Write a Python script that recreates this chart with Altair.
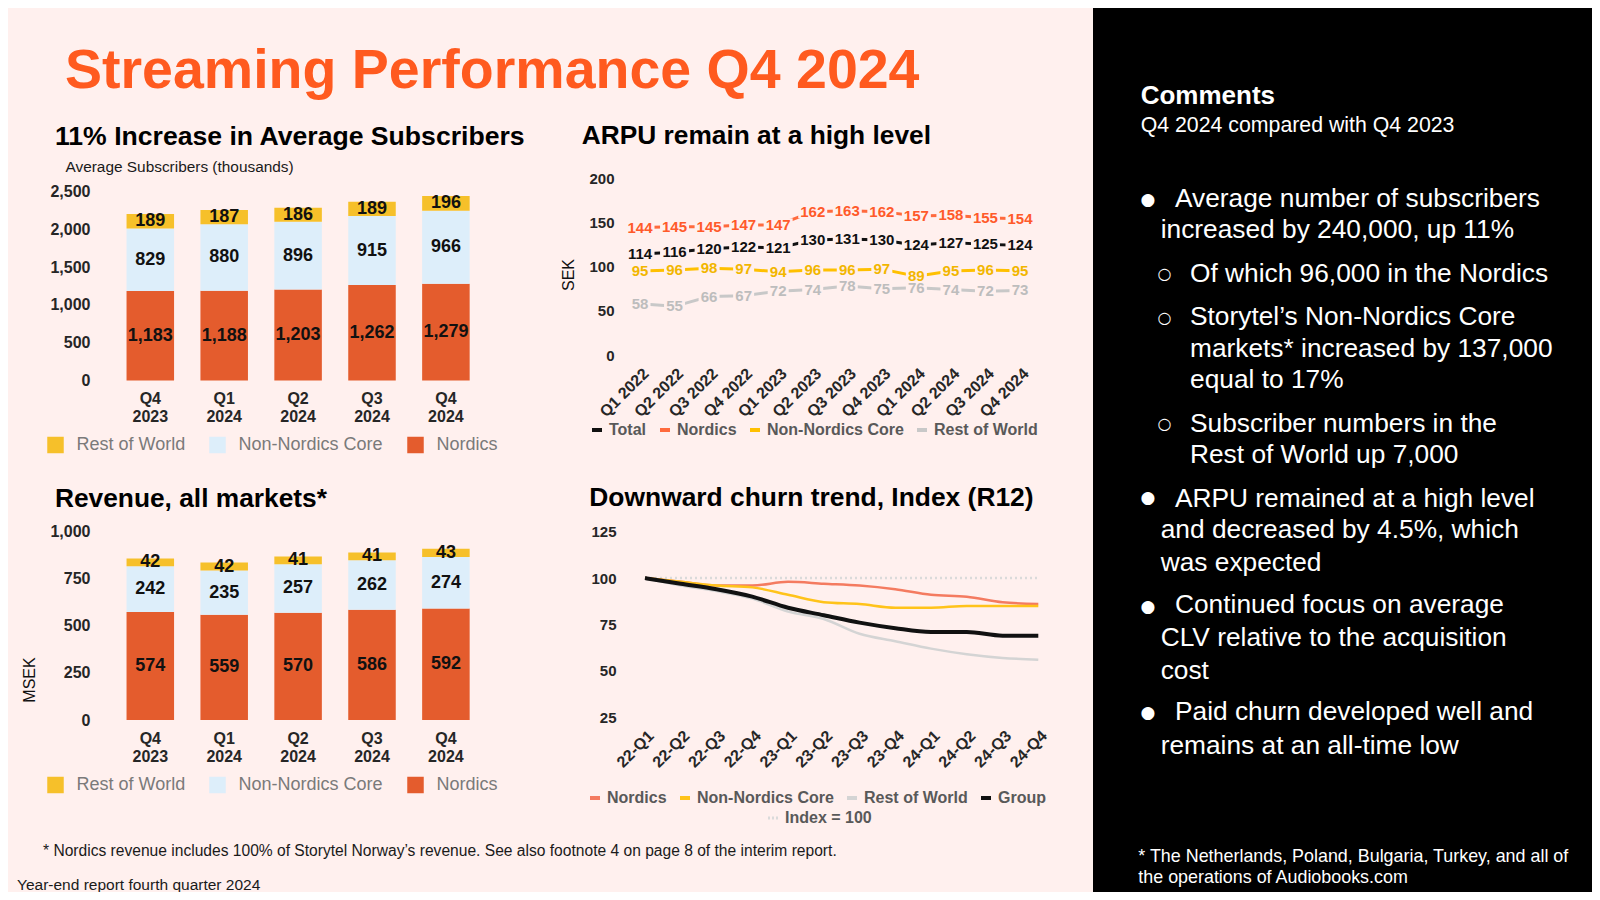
import altair as alt
import pandas as pd

W, H = 1584, 884
FONT = "Liberation Sans"
BG = "#FFF0EE"
TITLE_ORANGE = "#FF5A1F"
NORD_BAR = "#E45C2D"
NNC_BAR = "#DDEEFA"
ROW_BAR = "#F6C02A"
AXIS_C = "#262626"

# ---------------- data ----------------
quarters = ["Q4 2023", "Q1 2024", "Q2 2024", "Q3 2024", "Q4 2024"]
segments = ["Rest of World", "Non-Nordics Core", "Nordics"]
subs_nordics = [1183, 1188, 1203, 1262, 1279]
subs_nnc = [829, 880, 896, 915, 966]
subs_row = [189, 187, 186, 189, 196]
subs_ticks = [0, 500, 1000, 1500, 2000, 2500]

rev_nordics = [574, 559, 570, 586, 592]
rev_nnc = [242, 235, 257, 262, 274]
rev_row = [42, 42, 41, 41, 43]
rev_ticks = [0, 250, 500, 750, 1000]

arpu_quarters = ["Q1 2022", "Q2 2022", "Q3 2022", "Q4 2022", "Q1 2023", "Q2 2023",
                 "Q3 2023", "Q4 2023", "Q1 2024", "Q2 2024", "Q3 2024", "Q4 2024"]
arpu_series = ["Total", "Nordics", "Non-Nordics Core", "Rest of World"]
arpu_total = [114, 116, 120, 122, 121, 130, 131, 130, 124, 127, 125, 124]
arpu_nordics = [144, 145, 145, 147, 147, 162, 163, 162, 157, 158, 155, 154]
arpu_nnc = [95, 96, 98, 97, 94, 96, 96, 97, 89, 95, 96, 95]
arpu_row = [58, 55, 66, 67, 72, 74, 78, 75, 76, 74, 72, 73]
arpu_ticks = [0, 50, 100, 150, 200]

churn_quarters = ["22-Q1", "22-Q2", "22-Q3", "22-Q4", "23-Q1", "23-Q2",
                  "23-Q3", "23-Q4", "24-Q1", "24-Q2", "24-Q3", "24-Q4"]
churn_series = ["Nordics", "Non-Nordics Core", "Rest of World", "Group"]
churn_nordics = [100, 98, 96, 96, 98, 97, 96, 94, 91, 90, 87, 86]
churn_nnc = [100, 98, 96, 95, 91, 87, 86, 84, 84, 85, 85, 85]
churn_row = [100, 96, 93, 89, 82, 78, 70, 66, 62, 59, 57, 56]
churn_group = [100, 97, 94, 90, 84, 80, 76, 73, 71, 71, 69, 69]
churn_index = [100, 100, 100, 100, 100, 100, 100, 100, 100, 100, 100, 100]
churn_ticks = [25, 50, 75, 100, 125]

# ---------------- helpers ----------------
def txt(s, x, y, size, weight="normal", color="#000000", align="left",
        baseline="alphabetic", angle=None, font=FONT):
    kw = dict(x=x, y=y, fontSize=size, fontWeight=weight, color=color,
              align=align, baseline=baseline, font=font)
    if angle is not None:
        kw["angle"] = angle
    return alt.Chart(pd.DataFrame({"t": [s]})).mark_text(**kw).encode(text="t:N")


def yaxis(offset, values, size=16):
    return alt.Axis(orient="left", offset=offset, values=values, format=",.0f",
                    domain=False, ticks=False, tickSize=0, grid=False, labelPadding=0,
                    labelFontSize=size, labelFontWeight="bold", labelColor=AXIS_C,
                    title=None, labelOverlap=False, labelBaseline="middle")


BAR_X0, BAR_X1 = 105.35, 474.85


def bar_layers(nord, nnc, row, ymax, ticks, y0, y1, legend_y):
    recs = []
    for i, q in enumerate(quarters):
        base = 0
        for seg, vals, o in (("Nordics", nord, 1), ("Non-Nordics Core", nnc, 2),
                             ("Rest of World", row, 3)):
            v = vals[i]
            recs.append({"q": q, "seg": seg, "v": v, "o": o, "mid": base + v / 2})
            base += v
    df = pd.DataFrame(recs)
    xs = alt.Scale(type="band", domain=quarters, range=[BAR_X0, BAR_X1],
                   paddingInner=0.357, paddingOuter=0.1785)
    ys = alt.Scale(type="linear", domain=[0, ymax], range=[y0, y1], nice=False, zero=False)
    bars = alt.Chart(df).mark_bar().encode(
        x=alt.X("q:N", scale=xs, axis=alt.Axis(
            orient="bottom", offset=y0 - H, labelExpr="split(datum.label, ' ')",
            labelLineHeight=18, labelBaseline="top", labelPadding=10, labelAngle=0,
            labelFontSize=16, labelFontWeight="bold", labelColor=AXIS_C,
            domain=False, ticks=False, tickSize=0, grid=False, title=None,
            labelOverlap=False)),
        y=alt.Y("v:Q", stack="zero", scale=ys, axis=yaxis(-82, ticks, 16)),
        color=alt.Color("seg:N", scale=alt.Scale(domain=segments,
                                                 range=[ROW_BAR, NNC_BAR, NORD_BAR]),
                        legend=alt.Legend(orient="none", legendX=38.5, legendY=legend_y,
                                          direction="horizontal", title=None,
                                          symbolType="square", symbolSize=272,
                                          symbolStrokeWidth=0, labelFontSize=18,
                                          labelColor="#7A7A7A", labelOffset=12,
                                          columnPadding=23, padding=0)),
        order=alt.Order("o:Q"),
    )
    labels = alt.Chart(df).mark_text(fontSize=18, fontWeight="bold", color="#111111",
                                     baseline="middle").encode(
        x=alt.X("q:N", scale=xs, axis=None),
        y=alt.Y("mid:Q", scale=ys, stack=None, axis=None),
        text=alt.Text("v:Q", format=","),
    )
    return [bars, labels]


# ---------------- ARPU ----------------
arpu_recs = []
for s, vals in zip(arpu_series, [arpu_total, arpu_nordics, arpu_nnc, arpu_row]):
    for i, (q, v) in enumerate(zip(arpu_quarters, vals)):
        arpu_recs.append({"q": q, "s": s, "v": v, "i": i})
arpu_df = pd.DataFrame(arpu_recs)

xs_a = alt.Scale(type="point", domain=arpu_quarters, range=[632, 1012], padding=0)
ys_a = alt.Scale(type="linear", domain=[0, 200], range=[347, 170], nice=False, zero=False)
arpu_line_colors = alt.Scale(domain=arpu_series,
                             range=["#111111", "#FF6A3D", "#FFC000", "#C8C8C8"])
arpu_text_colors = alt.Scale(domain=arpu_series,
                             range=["#111111", "#FF5A2A", "#F2B600", "#BDBDBD"])

line_legend = dict(orient="none", direction="horizontal", title=None,
                   symbolType="stroke", symbolSize=100,
                   labelFontSize=16, labelFontWeight="bold", labelColor="#595959",
                   labelOffset=4, columnPadding=5, padding=0)

rot_axis = dict(orient="bottom", labelAngle=315, labelAlign="right", labelBaseline="top",
                labelPadding=10, labelFontSize=16, labelFontWeight="bold",
                labelColor=AXIS_C, domain=False, ticks=False, tickSize=0, grid=False,
                title=None, labelOverlap=False)

arpu_lines = alt.Chart(arpu_df).mark_line(strokeWidth=3).encode(
    x=alt.X("q:N", scale=xs_a, axis=alt.Axis(offset=347 - H, **rot_axis)),
    y=alt.Y("v:Q", scale=ys_a, stack=None, axis=yaxis(-606, arpu_ticks, 15)),
    color=alt.Color("s:N", scale=arpu_line_colors,
                    legend=alt.Legend(legendX=581, legendY=414, symbolStrokeWidth=4,
                                      **line_legend)),
    order=alt.Order("i:Q"),
)


def label_box(cond, path, size):
    return alt.Chart(arpu_df).transform_filter(cond).mark_point(
        shape=path, size=size, filled=True, fill=BG, opacity=1, strokeWidth=0).encode(
        x=alt.X("q:N", scale=xs_a, axis=None),
        y=alt.Y("v:Q", scale=ys_a, stack=None, axis=None),
    )


arpu_box3 = label_box("datum.v >= 100", "M-1,-0.45H1V0.45H-1Z", 841)
arpu_box2 = label_box("datum.v < 100", "M-1,-0.62H1V0.62H-1Z", 441)
arpu_text = alt.Chart(arpu_df).mark_text(fontSize=15, fontWeight="bold",
                                         baseline="middle").encode(
    x=alt.X("q:N", scale=xs_a, axis=None),
    y=alt.Y("v:Q", scale=ys_a, stack=None, axis=None),
    text="v:Q",
    color=alt.Color("s:N", scale=arpu_text_colors, legend=None),
)

# ---------------- churn ----------------
churn_recs = []
for s, vals in zip(churn_series, [churn_nordics, churn_nnc, churn_row, churn_group]):
    for i, (q, v) in enumerate(zip(churn_quarters, vals)):
        churn_recs.append({"q": q, "s": s, "v": v, "i": i})
churn_df = pd.DataFrame(churn_recs)
index_df = pd.DataFrame({"q": churn_quarters, "v": churn_index,
                         "s": ["Index = 100"] * len(churn_quarters),
                         "i": list(range(len(churn_quarters)))})

xs_c = alt.Scale(type="point", domain=churn_quarters, range=[637, 1030.3], padding=0)
ys_c = alt.Scale(type="linear", domain=[25, 125], range=[709.3, 523.7], nice=False, zero=False)
churn_colors = alt.Scale(domain=churn_series,
                         range=["#F47B60", "#FFC31A", "#D4D4D4", "#111111"])

churn_index_line = alt.Chart(index_df).mark_line(strokeWidth=2.5, strokeDash=[2, 3]).encode(
    x=alt.X("q:N", scale=xs_c, axis=None),
    y=alt.Y("v:Q", scale=ys_c, stack=None, axis=None),
    color=alt.Color("s:N", scale=alt.Scale(domain=["Index = 100"], range=["#DADADA"]),
                    legend=alt.Legend(legendX=757, legendY=802, symbolDash=[2, 2],
                                      symbolStrokeWidth=3, **line_legend)),
    order=alt.Order("i:Q"),
)
churn_lines = alt.Chart(churn_df[churn_df["s"] != "Group"]).mark_line(
    strokeWidth=2.5, interpolate="monotone").encode(
    x=alt.X("q:N", scale=xs_c, axis=alt.Axis(offset=709.3 - H, **rot_axis)),
    y=alt.Y("v:Q", scale=ys_c, stack=None, axis=yaxis(-608, churn_ticks, 15)),
    color=alt.Color("s:N", scale=churn_colors,
                    legend=alt.Legend(legendX=579, legendY=782, symbolStrokeWidth=4,
                                      **line_legend)),
    order=alt.Order("i:Q"),
)
churn_group_line = alt.Chart(churn_df[churn_df["s"] == "Group"]).mark_line(
    strokeWidth=4, interpolate="monotone").encode(
    x=alt.X("q:N", scale=xs_c, axis=None),
    y=alt.Y("v:Q", scale=ys_c, stack=None, axis=None),
    color=alt.Color("s:N", scale=churn_colors, legend=None),
    order=alt.Order("i:Q"),
)

# ---------------- right panel ----------------
panel = alt.Chart(pd.DataFrame({"a": [0]})).mark_rect(color="#000000").encode(
    x=alt.value(1085), x2=alt.value(W), y=alt.value(0), y2=alt.value(H))

WH = "#FFFFFF"
BS = 26.3
right = [
    panel,
    txt("Comments", 1132.7, 96.3, 26, "bold", WH),
    txt("Q4 2024 compared with Q4 2023", 1132.7, 123.7, 21.3, "normal", WH),
    txt("●", 1140, 192, 17, "normal", WH, "center", "middle", font="DejaVu Sans"),
    txt("Average number of subscribers", 1167, 198.7, BS, "normal", WH),
    txt("increased by 240,000, up 11%", 1152.7, 230.3, BS, "normal", WH),
    txt("○", 1156.5, 266, 16, "normal", WH, "center", "middle", font="DejaVu Sans"),
    txt("Of which 96,000 in the Nordics", 1182, 273.7, BS, "normal", WH),
    txt("○", 1156.5, 310.3, 16, "normal", WH, "center", "middle", font="DejaVu Sans"),
    txt("Storytel’s Non-Nordics Core", 1182, 317, BS, "normal", WH),
    txt("markets* increased by 137,000", 1182, 348.7, BS, "normal", WH),
    txt("equal to 17%", 1182, 380.3, BS, "normal", WH),
    txt("○", 1156.5, 416, 16, "normal", WH, "center", "middle", font="DejaVu Sans"),
    txt("Subscriber numbers in the", 1182, 423.7, BS, "normal", WH),
    txt("Rest of World up 7,000", 1182, 454.7, BS, "normal", WH),
    txt("●", 1140, 490.3, 17, "normal", WH, "center", "middle", font="DejaVu Sans"),
    txt("ARPU remained at a high level", 1167, 498.7, BS, "normal", WH),
    txt("and decreased by 4.5%, which", 1152.7, 530.3, BS, "normal", WH),
    txt("was expected", 1152.7, 562.7, BS, "normal", WH),
    txt("●", 1140, 598.7, 17, "normal", WH, "center", "middle", font="DejaVu Sans"),
    txt("Continued focus on average", 1167, 605.3, BS, "normal", WH),
    txt("CLV relative to the acquisition", 1152.7, 637.7, BS, "normal", WH),
    txt("cost", 1152.7, 671.3, BS, "normal", WH),
    txt("●", 1140, 705.3, 17, "normal", WH, "center", "middle", font="DejaVu Sans"),
    txt("Paid churn developed well and", 1167, 712, BS, "normal", WH),
    txt("remains at an all-time low", 1152.7, 746.3, BS, "normal", WH),
    txt("* The Netherlands, Poland, Bulgaria, Turkey, and all of", 1130.3, 853.7, 17.9,
        "normal", WH),
    txt("the operations of Audiobooks.com", 1130.3, 875.3, 17.9, "normal", WH),
]

# ---------------- left texts ----------------
left_text = [
    txt("Streaming Performance Q4 2024", 57, 79.5, 55.5, "bold", TITLE_ORANGE),
    txt("11% Increase in Average Subscribers", 47, 137, 26.6, "bold", "#000000"),
    txt("Average Subscribers (thousands)", 57.5, 163.7, 15.4, "normal", "#1A1A1A"),
    txt("ARPU remain at a high level", 573.7, 136.3, 26.3, "bold", "#000000"),
    txt("SEK", 561, 267, 16, "normal", "#111111", "center", "middle", angle=270),
    txt("Revenue, all markets*", 47, 498.7, 26.3, "bold", "#000000"),
    txt("MSEK", 22, 672, 16, "normal", "#111111", "center", "middle", angle=270),
    txt("Downward churn trend, Index (R12)", 581.3, 498, 26.4, "bold", "#000000"),
    txt("* Nordics revenue includes 100% of Storytel Norway’s revenue. See also footnote 4 on page 8 of the interim report.",
        35, 848, 15.6, "normal", "#1A1A1A"),
    txt("Year-end report fourth quarter 2024", 9, 882, 15.5, "normal", "#1A1A1A"),
]

subs = bar_layers(subs_nordics, subs_nnc, subs_row, 2500, subs_ticks, 372.5, 183.5, 428)
rev = bar_layers(rev_nordics, rev_nnc, rev_row, 1000, rev_ticks, 712, 523.7, 768)

layers = (right + left_text + subs + rev +
          [arpu_lines, arpu_box3, arpu_box2, arpu_text,
           churn_index_line, churn_lines, churn_group_line])

chart = alt.layer(*layers).resolve_scale(
    x="independent", y="independent", color="independent"
).resolve_axis(
    x="independent", y="independent"
).resolve_legend(
    color="independent"
).properties(
    width=W, height=H, padding=0,
    autosize=alt.AutoSizeParams(type="none"),
).configure(
    background=BG, font=FONT
).configure_view(
    strokeWidth=0
)

chart.save("out.html", embed_options={"renderer": "svg", "actions": False})
